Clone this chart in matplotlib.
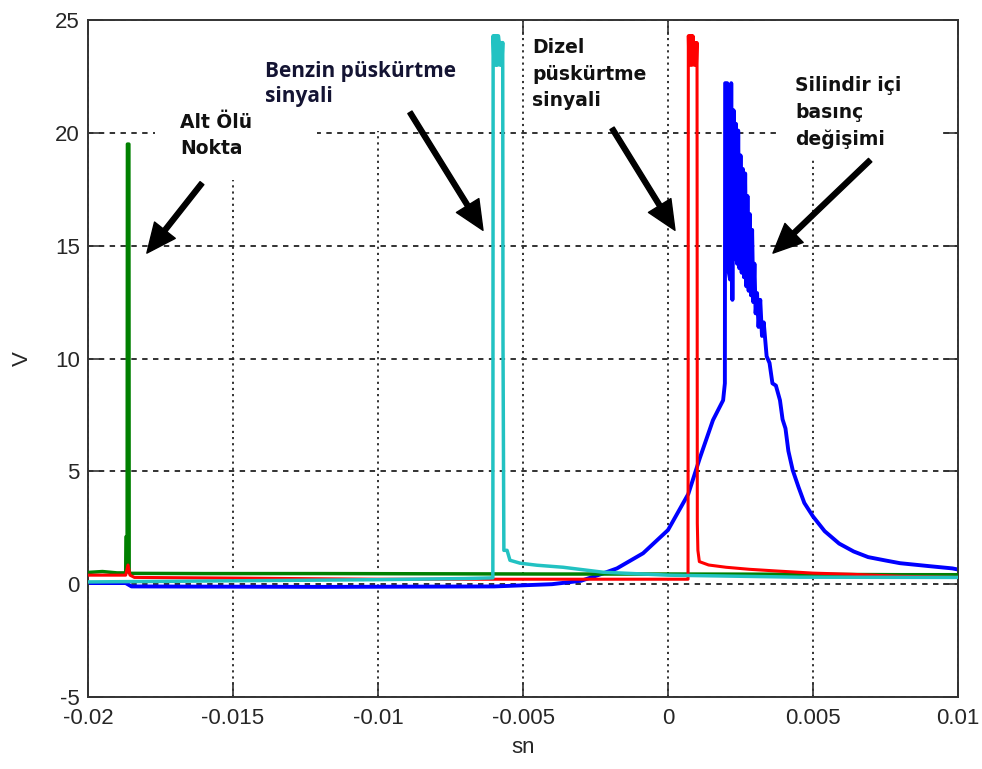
import matplotlib
import matplotlib.pyplot as plt
from matplotlib.patches import Rectangle

matplotlib.use("Agg")

plt.rcParams["font.family"] = ["Liberation Sans", "DejaVu Sans"]
plt.rcParams["axes.unicode_minus"] = False

# Osiloskop kayitlari: zaman (sn) ve gerilim (V)
green_t = [-0.02, -0.0195, -0.019, -0.01870, -0.01869, -0.01865, -0.01864, -0.01859,
           -0.01858, -0.0185, -0.016, -0.012, -0.008, -0.004, 0.0, 0.004, 0.008, 0.01]
green_v = [0.52, 0.56, 0.5, 0.5, 2.1, 2.1, 19.5, 19.5,
           0.5, 0.48, 0.47, 0.47, 0.46, 0.45, 0.45, 0.44, 0.42, 0.42]

red_t = [-0.02, -0.0187, -0.01862, -0.01855, -0.0184, -0.015, -0.01, -0.005, 0.0,
         0.00069, 0.00070, 0.00072, 0.00074, 0.00076, 0.00078, 0.00080, 0.00082,
         0.00084, 0.00086, 0.00088, 0.00090, 0.00092, 0.00094, 0.00096, 0.00098,
         0.00100, 0.00101, 0.00103, 0.00108, 0.0014, 0.0020, 0.0028, 0.0038,
         0.005, 0.0063, 0.008, 0.01]
red_v = [0.4, 0.4, 0.85, 0.4, 0.3, 0.27, 0.22, 0.22, 0.22,
         0.22, 24.3, 23.0, 24.3, 23.0, 24.3, 23.0, 24.3,
         23.0, 24.3, 24.0, 23.0, 24.0, 23.0, 24.0, 23.0,
         24.0, 2.7, 1.5, 1.0, 0.85, 0.75, 0.66, 0.58,
         0.49, 0.44, 0.35, 0.3]

cyan_t = [-0.02, -0.015, -0.01, -0.007, -0.00604,
          -0.00603, -0.00600, -0.00597, -0.00594, -0.00591, -0.00588, -0.00585,
          -0.00582, -0.00579, -0.00576, -0.00573, -0.00570,
          -0.00569, -0.00566, -0.00555, -0.00545, -0.0051, -0.00452, -0.00362,
          -0.00224, 0.0, 0.00455, 0.01]
cyan_v = [0.1, 0.15, 0.2, 0.25, 0.28,
          24.3, 23.0, 24.3, 23.0, 24.3, 23.0, 24.3,
          24.0, 23.0, 24.0, 23.0, 24.0,
          10.7, 1.5, 1.5, 1.06, 0.93, 0.84, 0.75,
          0.53, 0.4, 0.31, 0.3]

blue_t = [-0.02, -0.0187, -0.0185, -0.012, -0.006, -0.004, -0.003, -0.0023,
          -0.00176, -0.00086, 0.0, 0.0007, 0.0011, 0.00155, 0.0019, 0.00196,
          0.00197, 0.00204, 0.00207, 0.00214, 0.00218, 0.00222, 0.00226, 0.00230,
          0.00234, 0.00238, 0.00242, 0.00246, 0.00250, 0.00254, 0.00258, 0.00262,
          0.00266, 0.00270, 0.00274, 0.00278, 0.00282, 0.00286, 0.00290, 0.00294,
          0.00298, 0.00302, 0.00307, 0.00312, 0.00318, 0.00324, 0.00330, 0.00340,
          0.00350, 0.00360, 0.00372, 0.00386, 0.00395, 0.00405, 0.00415, 0.0043,
          0.0045, 0.0047, 0.0050, 0.0054, 0.0059, 0.0064, 0.0069, 0.0075,
          0.0080, 0.0090, 0.0098, 0.0100]
blue_v = [0.05, 0.05, -0.1, -0.12, -0.1, 0.0, 0.15, 0.45,
          0.7, 1.37, 2.4, 4.0, 5.6, 7.27, 8.15, 8.9,
          22.2, 22.2, 14.0, 13.5, 22.2, 12.6, 21.0, 14.4,
          20.4, 14.2, 20.1, 14.0, 19.0, 13.8, 18.4, 13.6,
          18.2, 13.2, 17.2, 13.0, 16.4, 12.8, 15.7, 12.5,
          14.2, 12.0, 12.9, 11.4, 12.6, 11.0, 11.6, 10.1,
          9.8, 8.9, 8.8, 8.15, 7.3, 6.9, 5.9, 5.05,
          4.3, 3.6, 3.0, 2.35, 1.8, 1.45, 1.2, 1.05,
          0.93, 0.8, 0.7, 0.65]

x_ticks = [-0.02, -0.015, -0.01, -0.005, 0, 0.005, 0.01]
x_labels = ["-0.02", "-0.015", "-0.01", "-0.005", "0", "0.005", "0.01"]
y_ticks = [-5, 0, 5, 10, 15, 20, 25]

fig = plt.figure(figsize=(9.82, 7.69), dpi=100)
ax = fig.add_axes([0.0896, 0.0936, 0.886, 0.8804])

ax.plot(blue_t, blue_v, color="#0000ff", lw=2.8, zorder=2)
ax.plot(green_t, green_v, color="#008000", lw=2.5, zorder=3)
ax.plot(red_t, red_v, color="#ff0000", lw=2.2, zorder=4)
ax.plot(cyan_t, cyan_v, color="#22c2c2", lw=2.5, zorder=5)

ax.set_xlim(-0.02, 0.01)
ax.set_ylim(-5, 25)
ax.set_xticks(x_ticks)
ax.set_xticklabels(x_labels)
ax.set_yticks(y_ticks)

ax.set_axisbelow(True)
ax.xaxis.grid(True, color="#222222", lw=1.3, linestyle=(0, (1.2, 2.2)))
ax.yaxis.grid(True, color="#222222", lw=1.3, linestyle=(0, (3, 3)))
ax.tick_params(direction="in", length=11, width=1.2, top=True, right=True,
               labelsize=16, labelcolor="#262626", color="#333333")
ax.tick_params(axis="x", pad=8)
ax.tick_params(axis="y", pad=6)
for s in ax.spines.values():
    s.set_linewidth(1.4)
    s.set_color("#333333")

ax.set_xlabel("sn", fontsize=16, color="#262626", labelpad=6)
ax.set_ylabel("V", fontsize=16, color="#262626", labelpad=16)

# beyaz zeminli etiket alanlari (izgara cizgilerini kapatir)
for x0, y0, x1, y1 in [(-0.01769, 17.9, -0.01210, 25.0),
                       (-0.01424, 20.07, -0.00562, 25.0),
                       (0.00386, 18.87, 0.00945, 25.0)]:
    ax.add_patch(Rectangle((x0, y0), x1 - x0, y1 - y0, facecolor="white",
                           edgecolor="none", zorder=1))

lbl = dict(fontsize=13.5, fontweight="bold", va="top", ha="left",
           family="DejaVu Sans", linespacing=1.5, zorder=6)
ax.text(-0.01683, 20.9, "Alt Ölü\nNokta", color="#111111", **lbl)
ax.text(-0.00469, 24.2, "Dizel\npüskürtme\nsinyali", color="#111111", **lbl)
ax.text(0.00438, 22.5, "Silindir içi\nbasınç\ndeğişimi", color="#111111", **lbl)
ax.text(-0.0139, 23.2, "Benzin püskürtme\nsinyali", color="#141433",
        fontsize=15, fontweight="bold", va="top", ha="left",
        family="Open Sans", linespacing=1.3, zorder=6)

arrow = dict(facecolor="black", edgecolor="black", width=3.5,
             headwidth=19, headlength=21, shrink=0)
for tail, tip in [((-0.01607, 17.77), (-0.01797, 14.67)),
                  ((-0.00890, 20.91), (-0.00638, 15.68)),
                  ((-0.00193, 20.2), (0.00024, 15.68)),
                  ((0.00697, 18.79), (0.00362, 14.67))]:
    ax.annotate("", xy=tip, xytext=tail, arrowprops=arrow, zorder=7)

fig.savefig("out.png", dpi=100)
